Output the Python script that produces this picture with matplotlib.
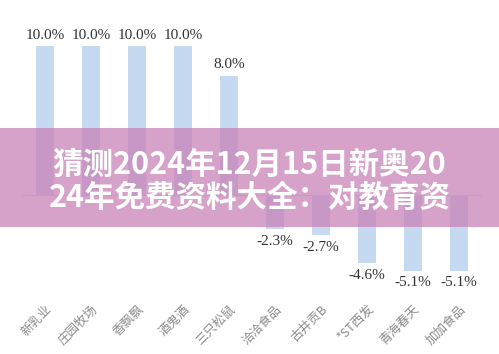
import matplotlib.pyplot as plt
from matplotlib.patches import Rectangle

plt.rcParams['font.family'] = ['Noto Sans CJK SC', 'DejaVu Sans']

# 数据
companies = ['新乳业', '庄园牧场', '香飘飘', '酒鬼酒', '三只松鼠',
             '洽洽食品', '古井贡B', '*ST西发', '青海春天', '加加食品']
changes = [10.0, 10.0, 10.0, 10.0, 8.0, -2.3, -2.7, -4.6, -5.1, -5.1]
overlay_title = '猜测2024年12月15日新奥20\n24年免费资料大全：对教育资'

fig = plt.figure(figsize=(4.99, 3.54), dpi=100)
ax = fig.add_axes([22 / 499, 0.1638, 460 / 499, 0.791])

x = range(len(companies))
bars = ax.bar(x, changes, width=0.4, color='#c5d9f0', zorder=2)
ax.axhline(0, color='#d9d9d9', linewidth=0.8, zorder=1)

# 数值标签
for b, v in zip(bars, changes):
    cx = b.get_x() + b.get_width() / 2
    if v >= 0:
        ax.annotate(f'{v:.1f}%', (cx, v), xytext=(0, 3), textcoords='offset points',
                    ha='center', va='bottom', fontsize=11,
                    family='Liberation Serif', color='#333333')
    else:
        ax.annotate(f'{v:.1f}%', (cx, v), xytext=(0, -4), textcoords='offset points',
                    ha='center', va='top', fontsize=11,
                    family='Liberation Serif', color='#333333')

ax.set_xlim(-0.5, len(companies) - 0.5)
ax.set_ylim(-6.8, 12)
ax.set_xticks(list(x))
ax.set_xticklabels(companies, rotation=45, ha='right', rotation_mode='anchor',
                   fontsize=9, color='#8c8c8c',
                   family=['Noto Sans CJK SC', 'Liberation Serif'])
ax.tick_params(axis='x', length=0, pad=5)
ax.set_yticks([])
for s in ax.spines.values():
    s.set_visible(False)

# 粉色遮罩条
fig.patches.append(Rectangle((0, (354 - 227) / 354), 1, 99 / 354,
                             transform=fig.transFigure, facecolor='#c983b7',
                             alpha=0.75, edgecolor='none', zorder=5))
fig.text(0.5, (354 - 181) / 354, overlay_title, ha='center', va='center',
         fontsize=22, fontweight='bold', color='white', linespacing=1.05,
         zorder=6)

fig.savefig('out.png', dpi=100)
